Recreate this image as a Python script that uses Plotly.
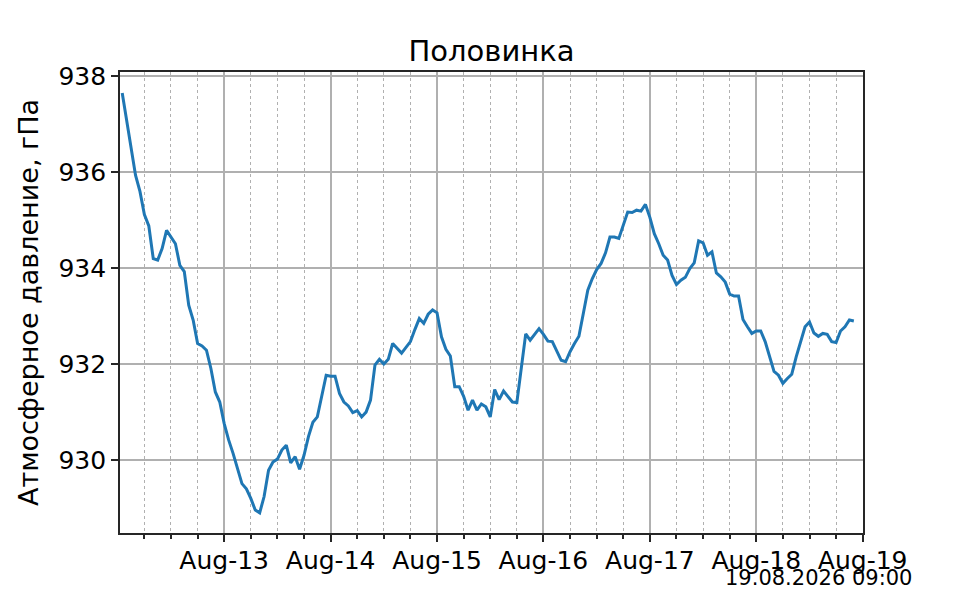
import plotly.graph_objects as go
import pandas as pd

# hourly pressure readings, hPa, starting 12.08.2026 01:00
start_time = "2026-08-12 01:00"
pressure = [
    937.65, 937.08, 936.50, 935.94, 935.60, 935.12, 934.88, 934.20, 934.17, 934.41,
    934.79, 934.65, 934.51, 934.06, 933.93, 933.23, 932.92, 932.43, 932.38, 932.29,
    931.91, 931.42, 931.21, 930.76, 930.42, 930.14, 929.83, 929.51, 929.40, 929.20,
    928.96, 928.90, 929.24, 929.79, 929.96, 930.02, 930.21, 930.31, 929.94, 930.07,
    929.81, 930.10, 930.49, 930.79, 930.90, 931.35, 931.77, 931.75, 931.75, 931.39,
    931.21, 931.13, 930.99, 931.03, 930.90, 931.00, 931.25, 931.98, 932.10, 932.00,
    932.10, 932.43, 932.33, 932.23, 932.35, 932.47, 932.72, 932.95, 932.85, 933.04,
    933.13, 933.07, 932.57, 932.31, 932.17, 931.53, 931.53, 931.33, 931.04, 931.25,
    931.04, 931.17, 931.11, 930.90, 931.47, 931.26, 931.44, 931.32, 931.21, 931.20,
    931.94, 932.63, 932.50, 932.63, 932.74, 932.62, 932.48, 932.47, 932.29, 932.08,
    932.05, 932.26, 932.43, 932.58, 933.06, 933.54, 933.78, 933.97, 934.10, 934.32,
    934.65, 934.65, 934.62, 934.90, 935.17, 935.16, 935.21, 935.19, 935.33, 935.06,
    934.72, 934.51, 934.27, 934.17, 933.85, 933.66, 933.75, 933.81, 933.99, 934.11,
    934.57, 934.53, 934.27, 934.34, 933.90, 933.82, 933.71, 933.46, 933.42, 933.42,
    932.93, 932.78, 932.64, 932.69, 932.69, 932.47, 932.15, 931.85, 931.77, 931.60,
    931.70, 931.79, 932.15, 932.47, 932.78, 932.88, 932.65, 932.58, 932.64, 932.62,
    932.47, 932.45, 932.69, 932.78, 932.92, 932.90,
]
times = pd.date_range(start_time, periods=len(pressure), freq="h")

station = "Половинка"
y_label = "Атмосферное давление, гПа"
stamp = "19.08.2026 09:00"

fig = go.Figure()
fig.add_trace(go.Scatter(
    x=times, y=pressure, mode="lines",
    line=dict(color="#1f77b4", width=3),
    showlegend=False,
))

axis_common = dict(
    showline=True, linecolor="#262626", linewidth=1.8, mirror=True,
    ticks="outside", ticklen=7, tickwidth=1.6, tickcolor="#262626",
    showgrid=True, gridcolor="#b0b0b0", gridwidth=1.5,
    zeroline=False,
    tickfont=dict(size=25, color="black"),
)

fig.update_xaxes(
    type="date",
    range=["2026-08-12 00:30", "2026-08-19 00:04"],
    dtick=86400000, tick0="2026-08-13", tickformat="%b-%d",
    ticklabelstandoff=-3,
    minor=dict(dtick=6 * 3600000, tick0="2026-08-13", ticks="outside", ticklen=4,
               tickcolor="#262626", showgrid=True, gridcolor="#b0b0b0",
               griddash="dot", gridwidth=1.2),
    **axis_common,
)
fig.update_yaxes(
    range=[928.48, 938.09], dtick=2, tick0=930,
    title=dict(text=y_label, font=dict(size=27, color="black"), standoff=12),
    **axis_common,
)

# page body adds 8px offset, so the figure is laid out 8px up/left
fig.update_layout(
    width=952, height=592,
    margin=dict(l=112, r=97, t=64, b=67),
    paper_bgcolor="white", plot_bgcolor="white",
    font=dict(family="DejaVu Sans", color="black"),
    title=dict(text=station, x=0.5, xref="paper", y=1 - 43 / 592, yref="container",
               yanchor="middle", font=dict(size=29, color="black")),
    annotations=[dict(
        text=stamp, xref="paper", yref="paper",
        x=(914 - 120) / 743, y=(533 - 578) / 461,
        xanchor="right", yanchor="middle", showarrow=False,
        font=dict(size=21, color="black"),
    )],
)

fig.write_html("out.html")
